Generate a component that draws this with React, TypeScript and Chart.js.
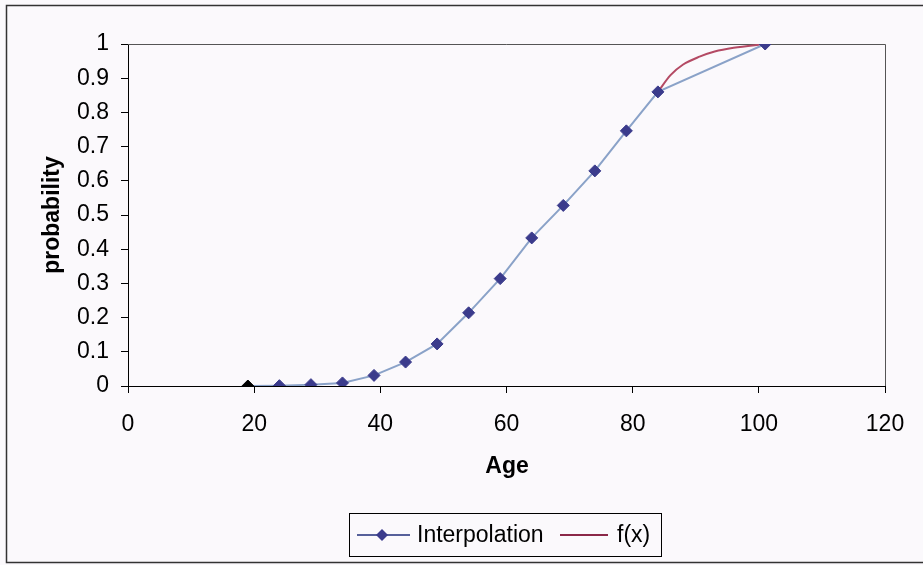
import React, { useEffect, useRef } from "react";
import { Chart, registerables } from "chart.js";

Chart.register(...registerables);

// Interpolation points (age, probability)
const ages = [19, 24, 29, 34, 39, 44, 49, 54, 59, 64, 69, 74, 79, 84, 101];
const probs = [0, 0.001, 0.004, 0.009, 0.031, 0.07, 0.123, 0.214, 0.314, 0.433, 0.528, 0.629, 0.746, 0.86, 1.0];

// f(x) curve points
const fxAges = [84, 86, 88, 90.6, 93, 96, 101];
const fxVals = [0.86, 0.909, 0.94, 0.963, 0.978, 0.989, 1.0];

const xTicks = [0, 20, 40, 60, 80, 100, 120];
const yMin = 0;
const yMax = 1;
const yStep = 0.1;

const seriesNames = ["Interpolation", "f(x)"];
const xTitle = "Age";
const yTitle = "probability";

const FONT = "'Liberation Sans', Arial, sans-serif";
const NAVY = "#3b3b8c";
const LINE_BLUE = "#8aa2c8";
const RED = "#b44a64";

const decorPlugin = {
  id: "decor",
  beforeDraw(chart: any) {
    const ctx = chart.ctx;
    ctx.save();
    ctx.fillStyle = "#fbf9fc";
    ctx.fillRect(0, 0, chart.width, chart.height);
    ctx.strokeStyle = "#333";
    ctx.lineWidth = 1.5;
    ctx.strokeRect(6.5, 5.5, chart.width + 20, 557);
    ctx.restore();
  },
  beforeDatasetsDraw(chart: any) {
    const { ctx, chartArea } = chart;
    ctx.save();
    ctx.strokeStyle = "#555";
    ctx.lineWidth = 1;
    ctx.beginPath();
    ctx.moveTo(chartArea.left, Math.round(chartArea.top) + 0.5);
    ctx.lineTo(Math.round(chartArea.right) + 0.5, Math.round(chartArea.top) + 0.5);
    ctx.lineTo(Math.round(chartArea.right) + 0.5, chartArea.bottom);
    ctx.stroke();
    ctx.restore();
  },
  afterDraw(chart: any) {
    const ctx = chart.ctx;
    ctx.save();
    ctx.fillStyle = "#000";
    ctx.font = `bold 23px ${FONT}`;
    ctx.textAlign = "center";
    ctx.textBaseline = "middle";
    ctx.fillText(xTitle, 507, 467);
    ctx.save();
    ctx.translate(53, 215);
    ctx.rotate(-Math.PI / 2);
    ctx.fillText(yTitle, 0, 0);
    ctx.restore();

    // legend
    ctx.strokeStyle = "#000";
    ctx.lineWidth = 1;
    ctx.strokeRect(349.5, 513.5, 312, 43);
    const ly = 535;
    ctx.strokeStyle = "#56609a";
    ctx.lineWidth = 2;
    ctx.beginPath();
    ctx.moveTo(357, ly);
    ctx.lineTo(410, ly);
    ctx.stroke();
    ctx.fillStyle = NAVY;
    ctx.beginPath();
    ctx.moveTo(382, ly - 6);
    ctx.lineTo(388, ly);
    ctx.lineTo(382, ly + 6);
    ctx.lineTo(376, ly);
    ctx.closePath();
    ctx.fill();
    ctx.strokeStyle = "#8b2848";
    ctx.beginPath();
    ctx.moveTo(560, ly);
    ctx.lineTo(608, ly);
    ctx.stroke();
    ctx.fillStyle = "#000";
    ctx.font = `23px ${FONT}`;
    ctx.textAlign = "left";
    ctx.fillText(seriesNames[0], 417, ly + 1);
    ctx.fillText(seriesNames[1], 617, ly + 1);
    ctx.restore();
  },
};

export default function App() {
  const ref = useRef<HTMLCanvasElement>(null);
  useEffect(() => {
    if (!ref.current) return;
    const chart = new Chart(ref.current, {
      type: "scatter",
      data: {
        datasets: [
          {
            label: seriesNames[0],
            data: ages.map((a, i) => ({ x: a, y: probs[i] })),
            showLine: true,
            borderColor: LINE_BLUE,
            borderWidth: 2,
            pointStyle: "rectRot",
            pointRadius: 6,
            pointBackgroundColor: ages.map((_, i) => (i === 0 ? "#000" : NAVY)),
            pointBorderColor: ages.map((_, i) => (i === 0 ? "#000" : NAVY)),
            pointBorderWidth: 1,
            order: 0,
          },
          {
            label: seriesNames[1],
            data: fxAges.map((a, i) => ({ x: a, y: fxVals[i] })),
            showLine: true,
            borderColor: RED,
            borderWidth: 2,
            pointRadius: 0,
            cubicInterpolationMode: "monotone",
            order: 1,
          },
        ],
      },
      options: {
        animation: false,
        responsive: false,
        layout: { padding: { top: 44, right: 38, left: 0, bottom: 0 } },
        plugins: { legend: { display: false }, tooltip: { enabled: false } },
        scales: {
          x: {
            type: "linear",
            min: xTicks[0],
            max: xTicks[xTicks.length - 1],
            afterBuildTicks: (s: any) => {
              s.ticks = xTicks.map((v) => ({ value: v }));
            },
            afterFit: (s: any) => {
              s.height = 179;
            },
            grid: {
              drawOnChartArea: false,
              drawTicks: true,
              tickLength: 7,
              color: "#000",
            },
            border: { display: true, color: "#000", width: 1 },
            ticks: {
              color: "#000",
              font: { family: FONT, size: 23 },
              padding: 18,
              maxRotation: 0,
            },
          },
          y: {
            type: "linear",
            min: yMin,
            max: yMax,
            afterFit: (s: any) => {
              s.width = 128;
            },
            grid: {
              drawOnChartArea: false,
              drawTicks: true,
              tickLength: 7,
              color: "#000",
            },
            border: { display: true, color: "#000", width: 1 },
            ticks: {
              stepSize: yStep,
              color: "#000",
              font: { family: FONT, size: 23 },
              padding: 12,
              callback: (v: any) => String(Math.round(Number(v) * 10) / 10),
            },
          },
        },
      },
      plugins: [decorPlugin],
    });
    return () => chart.destroy();
  }, []);
  return (
    <div style={{ position: "absolute", left: 0, top: 0, width: 923, height: 565 }}>
      <canvas ref={ref} width={923} height={565} />
    </div>
  );
}
